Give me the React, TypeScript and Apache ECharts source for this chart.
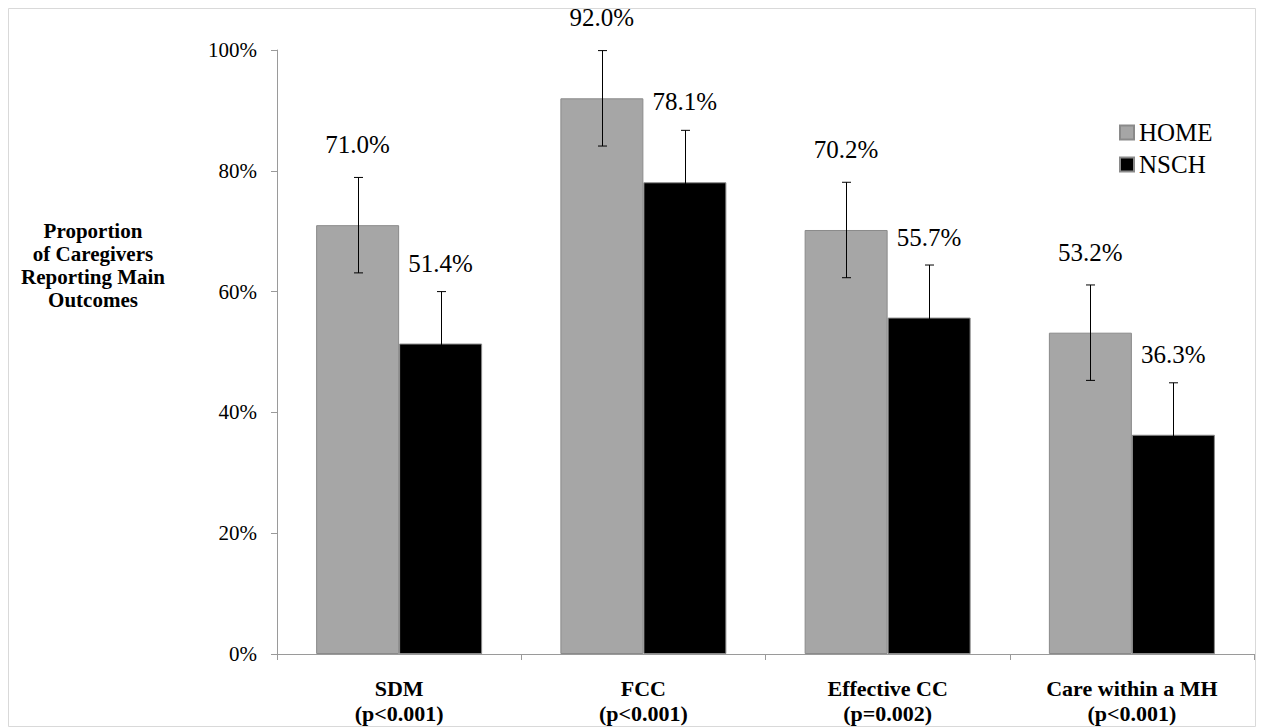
import React, { useEffect, useRef } from "react";
import * as echarts from "echarts";

const categories = [
  "SDM\n(p<0.001)",
  "FCC\n(p<0.001)",
  "Effective CC\n(p=0.002)",
  "Care within a MH\n(p<0.001)",
];
const homeValues = [71.0, 92.0, 70.2, 53.2];
const nschValues = [51.4, 78.1, 55.7, 36.3];
const homeErrors = [7.9, 7.9, 7.9, 7.9];
const nschErrors = [8.6, 8.6, 8.7, 8.6];
const seriesNames = ["HOME", "NSCH"];
const yTitle = "Proportion\nof Caregivers\nReporting Main\nOutcomes";

const FONT = "Liberation Serif";
const BAR_W = 83;

export default function App() {
  const ref = useRef<HTMLDivElement>(null);

  useEffect(() => {
    if (!ref.current) return;
    const chart = echarts.init(ref.current, undefined, { renderer: "svg" });

    const errData = (vals: number[], errs: number[]) =>
      vals.map((v, i) => [i, v - errs[i], v + errs[i]]);

    const makeErr = (name: string, vals: number[], errs: number[], offset: number) => ({
      type: "custom",
      name: name + "-err",
      z: 10,
      silent: true,
      data: errData(vals, errs),
      encode: { x: 0, y: [1, 2] },
      renderItem: (params: any, api: any) => {
        const lo = api.coord([api.value(0), api.value(1)]);
        const hi = api.coord([api.value(0), api.value(2)]);
        const x = Math.round(lo[0] + offset) + 0.5;
        const cap = 4.5;
        const st = { stroke: "#000", lineWidth: 1 };
        return {
          type: "group",
          children: [
            { type: "line", shape: { x1: x, y1: lo[1], x2: x, y2: hi[1] }, style: st },
            { type: "line", shape: { x1: x - cap, y1: lo[1], x2: x + cap, y2: lo[1] }, style: st },
            { type: "line", shape: { x1: x - cap, y1: hi[1], x2: x + cap, y2: hi[1] }, style: st },
          ],
        };
      },
    });

    const barLabel = {
      show: true,
      position: "top",
      distance: 68,
      formatter: (p: any) => Number(p.value).toFixed(1) + "%",
      fontFamily: FONT,
      fontSize: 25,
      color: "#000",
    };

    chart.setOption({
      animation: false,
      backgroundColor: "#fff",
      textStyle: { fontFamily: FONT },
      grid: { left: 277, right: 10, top: 50, bottom: 74, containLabel: false },
      legend: {
        data: seriesNames,
        orient: "vertical",
        left: 1119,
        top: 120,
        padding: 0,
        itemWidth: 14,
        itemHeight: 14,
        itemGap: 7,
        icon: "rect",
        textStyle: { fontFamily: FONT, fontSize: 25, color: "#000" },
        selectedMode: false,
      },
      xAxis: {
        type: "category",
        data: categories,
        axisLine: { lineStyle: { color: "#9a9a9a", width: 1 } },
        axisTick: { show: true, length: 6, lineStyle: { color: "#9a9a9a" } },
        axisLabel: {
          interval: 0,
          margin: 22,
          fontFamily: FONT,
          fontWeight: "bold",
          fontSize: 22,
          lineHeight: 25,
          color: "#000",
        },
      },
      yAxis: {
        type: "value",
        min: 0,
        max: 100,
        interval: 20,
        splitLine: { show: false },
        axisLine: { show: true, lineStyle: { color: "#9a9a9a", width: 1 } },
        axisTick: { show: true, length: 6, lineStyle: { color: "#9a9a9a" } },
        axisLabel: {
          margin: 20,
          formatter: "{value}%",
          fontFamily: FONT,
          fontSize: 21,
          color: "#000",
        },
      },
      series: [
        {
          type: "bar",
          name: seriesNames[0],
          data: homeValues,
          barWidth: BAR_W,
          barGap: "0%",
          itemStyle: { color: "#a6a6a6", borderColor: "#8a8a8a", borderWidth: 1 },
          label: barLabel,
        },
        {
          type: "bar",
          name: seriesNames[1],
          data: nschValues,
          barWidth: BAR_W,
          barGap: "0%",
          itemStyle: { color: "#000", borderColor: "#8a8a8a", borderWidth: 1 },
          label: barLabel,
        },
        makeErr(seriesNames[0], homeValues, homeErrors, -BAR_W / 2),
        makeErr(seriesNames[1], nschValues, nschErrors, BAR_W / 2),
      ],
      graphic: [
        {
          type: "rect",
          silent: true,
          shape: { x: 8.5, y: 8.5, width: 1247, height: 718 },
          style: { fill: "none", stroke: "#d9d9d9", lineWidth: 1 },
          z: -1,
        },
        {
          type: "text",
          x: 93,
          y: 265,
          style: {
            text: yTitle,
            align: "center",
            verticalAlign: "middle",
            font: "bold 21px Liberation Serif",
            lineHeight: 23,
            fill: "#000",
          },
        },
      ],
    });

    return () => chart.dispose();
  }, []);

  return (
    <div
      ref={ref}
      style={{ position: "absolute", left: 0, top: 0, width: 1264, height: 728 }}
    />
  );
}
